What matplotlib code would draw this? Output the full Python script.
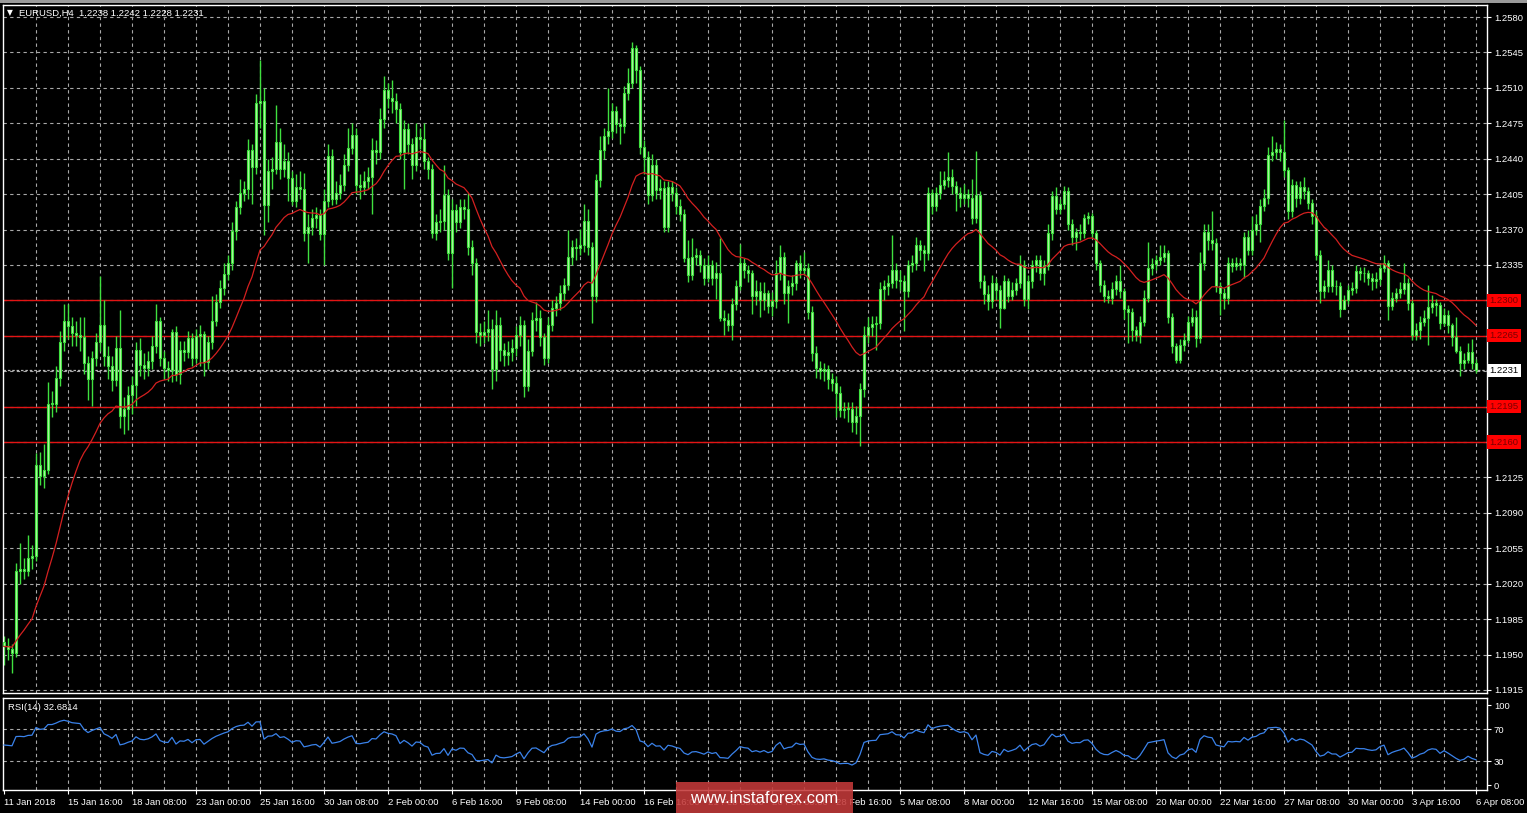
import numpy as np
import pandas as pd
import matplotlib
matplotlib.use("Agg")
import matplotlib.pyplot as plt
import matplotlib.transforms as mtransforms
from matplotlib.patches import Rectangle

# ---------------- data (EURUSD H4, 11 Jan 2018 00:00 -> 6 Apr 2018 08:00) ----------------
first_open = 1.1962
close = [
    1.1958, 1.1955, 1.1952, 1.2033, 1.2035, 1.2033, 1.2045, 1.2047, 1.2137, 1.2126,
    1.2132, 1.2198, 1.2198, 1.2223, 1.2259, 1.2280, 1.2275, 1.2268, 1.2266, 1.2264,
    1.2238, 1.2222, 1.2243, 1.2259, 1.2276, 1.2245, 1.2235, 1.2221, 1.2253, 1.2186,
    1.2193, 1.2206, 1.2216, 1.2251, 1.2236, 1.2233, 1.2240, 1.2255, 1.2280, 1.2243,
    1.2233, 1.2231, 1.2269, 1.2227, 1.2251, 1.2249, 1.2263, 1.2243, 1.2265, 1.2267,
    1.2239, 1.2259, 1.2280, 1.2298, 1.2312, 1.2326, 1.2337, 1.2369, 1.2392, 1.2406,
    1.2410, 1.2449, 1.2432, 1.2495, 1.2497, 1.2394, 1.2428, 1.2430, 1.2457, 1.2430,
    1.2438, 1.2421, 1.2398, 1.2412, 1.2410, 1.2367, 1.2373, 1.2381, 1.2384, 1.2366,
    1.2398, 1.2443, 1.2400, 1.2406, 1.2414, 1.2434, 1.2451, 1.2463, 1.2414, 1.2412,
    1.2418, 1.2422, 1.2449, 1.2447, 1.2479, 1.2508, 1.2500, 1.2497, 1.2489, 1.2447,
    1.2469, 1.2455, 1.2434, 1.2461, 1.2459, 1.2438, 1.2430, 1.2367, 1.2377, 1.2378,
    1.2404, 1.2347, 1.2389, 1.2377, 1.2392, 1.2390, 1.2353, 1.2337, 1.2269, 1.2266,
    1.2269, 1.2272, 1.2232, 1.2276, 1.2251, 1.2246, 1.2249, 1.2253, 1.2266, 1.2276,
    1.2215, 1.2250, 1.2281, 1.2283, 1.2264, 1.2243, 1.2276, 1.2292, 1.2297, 1.2307,
    1.2315, 1.2343, 1.2353, 1.2352, 1.2355, 1.2378, 1.2353, 1.2304, 1.2419, 1.2449,
    1.2462, 1.2467, 1.2487, 1.2474, 1.2472, 1.2505, 1.2515, 1.2549, 1.2528, 1.2452,
    1.2442, 1.2404, 1.2434, 1.2409, 1.2411, 1.2373, 1.2412, 1.2406, 1.2393, 1.2385,
    1.2342, 1.2325, 1.2343, 1.2345, 1.2335, 1.2322, 1.2335, 1.2322, 1.2327, 1.2283,
    1.2281, 1.2276, 1.2296, 1.2314, 1.2337, 1.2330, 1.2327, 1.2304, 1.2309, 1.2300,
    1.2307, 1.2294, 1.2299, 1.2327, 1.2343, 1.2307, 1.2314, 1.2317, 1.2337, 1.2330,
    1.2332, 1.2289, 1.2248, 1.2233, 1.2230, 1.2232, 1.2222, 1.2218, 1.2208, 1.2192,
    1.2193, 1.2193, 1.2180, 1.2186, 1.2212, 1.2266, 1.2274, 1.2277, 1.2278, 1.2311,
    1.2314, 1.2317, 1.2330, 1.2320, 1.2319, 1.2309, 1.2335, 1.2337, 1.2355, 1.2350,
    1.2347, 1.2406, 1.2393, 1.2406, 1.2414, 1.2419, 1.2422, 1.2413, 1.2406, 1.2401,
    1.2405, 1.2401, 1.2381, 1.2404, 1.2319, 1.2306, 1.2299, 1.2317, 1.2310, 1.2292,
    1.2319, 1.2304, 1.2310, 1.2317, 1.2335, 1.2301, 1.2319, 1.2335, 1.2340, 1.2327,
    1.2334, 1.2367, 1.2403, 1.2390, 1.2395, 1.2408, 1.2375, 1.2363, 1.2368, 1.2367,
    1.2381, 1.2383, 1.2367, 1.2337, 1.2315, 1.2304, 1.2302, 1.2311, 1.2319, 1.2309,
    1.2291, 1.2289, 1.2271, 1.2266, 1.2279, 1.2302, 1.2332, 1.2336, 1.2340, 1.2343,
    1.2347, 1.2284, 1.2255, 1.2241, 1.2256, 1.2261, 1.2279, 1.2284, 1.2263, 1.2337,
    1.2368, 1.2360, 1.2357, 1.2314, 1.2307, 1.2302, 1.2337, 1.2334, 1.2337, 1.2335,
    1.2363, 1.2350, 1.2370, 1.2375, 1.2393, 1.2401, 1.2444, 1.2447, 1.2450, 1.2447,
    1.2429, 1.2388, 1.2414, 1.2401, 1.2412, 1.2408, 1.2396, 1.2383, 1.2345, 1.2309,
    1.2314, 1.2330, 1.2314, 1.2314, 1.2291, 1.2300, 1.2310, 1.2312, 1.2329, 1.2327,
    1.2327, 1.2322, 1.2319, 1.2321, 1.2332, 1.2337, 1.2294, 1.2302, 1.2307, 1.2311,
    1.2317, 1.2297, 1.2266, 1.2271, 1.2279, 1.2283, 1.2293, 1.2297, 1.2295, 1.2278,
    1.2286, 1.2276, 1.2264, 1.2250, 1.2238, 1.2241, 1.2249, 1.2238, 1.2231,
]
high = [
    1.1968, 1.1966, 1.1960, 1.2040, 1.2060, 1.2045, 1.2068, 1.2058, 1.2149, 1.2150,
    1.2158, 1.2219, 1.2210, 1.2235, 1.2270, 1.2296, 1.2296, 1.2284, 1.2280, 1.2284,
    1.2284, 1.2245, 1.2250, 1.2268, 1.2324, 1.2300, 1.2255, 1.2245, 1.2265, 1.2290,
    1.2205, 1.2215, 1.2225, 1.2259, 1.2263, 1.2248, 1.2250, 1.2265, 1.2296, 1.2284,
    1.2250, 1.2240, 1.2272, 1.2275, 1.2260, 1.2260, 1.2270, 1.2268, 1.2272, 1.2276,
    1.2270, 1.2265, 1.2304, 1.2306, 1.2320, 1.2337, 1.2345, 1.2377, 1.2398, 1.2420,
    1.2418, 1.2459, 1.2455, 1.2504, 1.2538, 1.2510, 1.2440, 1.2442, 1.2493, 1.2470,
    1.2455, 1.2447, 1.2428, 1.2425, 1.2428, 1.2426, 1.2385, 1.2390, 1.2392, 1.2390,
    1.2410, 1.2455, 1.2450, 1.2418, 1.2425, 1.2445, 1.2470, 1.2475, 1.2470, 1.2425,
    1.2428, 1.2432, 1.2460, 1.2458, 1.2490, 1.2522, 1.2515, 1.2518, 1.2505, 1.2495,
    1.2478, 1.2475, 1.2460, 1.2475, 1.2470, 1.2475, 1.2442, 1.2435, 1.2385, 1.2390,
    1.2434, 1.2410, 1.2400, 1.2395, 1.2400, 1.2400, 1.2406, 1.2360, 1.2342, 1.2278,
    1.2280, 1.2290, 1.2282, 1.2290, 1.2284, 1.2258, 1.2260, 1.2262, 1.2275, 1.2285,
    1.2281, 1.2262, 1.2289, 1.2298, 1.2290, 1.2268, 1.2284, 1.2300, 1.2304, 1.2315,
    1.2322, 1.2370, 1.2360, 1.2362, 1.2371, 1.2395, 1.2390, 1.2358, 1.2425, 1.2462,
    1.2470, 1.2510, 1.2495, 1.2492, 1.2480, 1.2512, 1.2530, 1.2555, 1.2552, 1.2532,
    1.2458, 1.2448, 1.2445, 1.2440, 1.2420, 1.2418, 1.2418, 1.2418, 1.2412, 1.2400,
    1.2390, 1.2360, 1.2362, 1.2352, 1.2350, 1.2342, 1.2345, 1.2340, 1.2338, 1.2362,
    1.2290, 1.2288, 1.2302, 1.2320, 1.2356, 1.2342, 1.2335, 1.2330, 1.2320, 1.2318,
    1.2318, 1.2310, 1.2308, 1.2340, 1.2355, 1.2348, 1.2320, 1.2325, 1.2340, 1.2345,
    1.2348, 1.2337, 1.2294, 1.2255, 1.2240, 1.2238, 1.2236, 1.2228, 1.2225, 1.2215,
    1.2200, 1.2200, 1.2200, 1.2196, 1.2218, 1.2275, 1.2284, 1.2285, 1.2285, 1.2318,
    1.2320, 1.2325, 1.2365, 1.2337, 1.2330, 1.2325, 1.2340, 1.2345, 1.2363, 1.2360,
    1.2355, 1.2412, 1.2410, 1.2412, 1.2428, 1.2428, 1.2447, 1.2430, 1.2418, 1.2412,
    1.2415, 1.2410, 1.2420, 1.2448, 1.2408, 1.2325, 1.2315, 1.2325, 1.2322, 1.2315,
    1.2325, 1.2322, 1.2318, 1.2322, 1.2345, 1.2340, 1.2325, 1.2340, 1.2345, 1.2345,
    1.2340, 1.2375, 1.2408, 1.2412, 1.2400, 1.2413, 1.2412, 1.2380, 1.2372, 1.2375,
    1.2385, 1.2387, 1.2386, 1.2370, 1.2340, 1.2320, 1.2310, 1.2318, 1.2325, 1.2335,
    1.2312, 1.2295, 1.2292, 1.2275, 1.2285, 1.2310, 1.2358, 1.2342, 1.2345, 1.2355,
    1.2355, 1.2350, 1.2288, 1.2258, 1.2262, 1.2268, 1.2285, 1.2292, 1.2290, 1.2348,
    1.2375, 1.2375, 1.2388, 1.2362, 1.2318, 1.2312, 1.2343, 1.2342, 1.2343, 1.2342,
    1.2368, 1.2370, 1.2383, 1.2385, 1.2400, 1.2410, 1.2452, 1.2462, 1.2457, 1.2455,
    1.2478, 1.2432, 1.2420, 1.2418, 1.2418, 1.2422, 1.2412, 1.2400, 1.2388, 1.2350,
    1.2320, 1.2340, 1.2335, 1.2320, 1.2318, 1.2305, 1.2315, 1.2318, 1.2335, 1.2333,
    1.2333, 1.2330, 1.2327, 1.2328, 1.2337, 1.2345, 1.2340, 1.2308, 1.2312, 1.2318,
    1.2337, 1.2322, 1.2300, 1.2278, 1.2285, 1.2290, 1.2315, 1.2305, 1.2301, 1.2298,
    1.2292, 1.2290, 1.2278, 1.2284, 1.2255, 1.2248, 1.2258, 1.2262, 1.2242,
]
low = [
    1.1940, 1.1945, 1.1932, 1.1948, 1.2020, 1.2025, 1.2028, 1.2035, 1.2042, 1.2118,
    1.2115, 1.2128, 1.2185, 1.2190, 1.2215, 1.2250, 1.2262, 1.2255, 1.2255, 1.2250,
    1.2227, 1.2202, 1.2196, 1.2235, 1.2250, 1.2235, 1.2222, 1.2210, 1.2215, 1.2174,
    1.2168, 1.2172, 1.2188, 1.2196, 1.2225, 1.2222, 1.2225, 1.2232, 1.2248, 1.2235,
    1.2222, 1.2220, 1.2219, 1.2220, 1.2217, 1.2240, 1.2243, 1.2235, 1.2238, 1.2235,
    1.2225, 1.2232, 1.2252, 1.2275, 1.2292, 1.2305, 1.2320, 1.2330, 1.2360, 1.2385,
    1.2398, 1.2400, 1.2395, 1.2425, 1.2470, 1.2365, 1.2377, 1.2410, 1.2425, 1.2420,
    1.2422, 1.2398, 1.2394, 1.2392, 1.2400, 1.2359, 1.2337, 1.2365, 1.2372, 1.2360,
    1.2335, 1.2392, 1.2394, 1.2395, 1.2400, 1.2408, 1.2428, 1.2445, 1.2405, 1.2400,
    1.2405, 1.2410, 1.2385, 1.2435, 1.2440, 1.2470, 1.2490, 1.2485, 1.2475, 1.2440,
    1.2410, 1.2445, 1.2420, 1.2428, 1.2450, 1.2430, 1.2420, 1.2362, 1.2360, 1.2368,
    1.2370, 1.2340, 1.2312, 1.2368, 1.2372, 1.2380, 1.2345, 1.2325, 1.2258, 1.2255,
    1.2258, 1.2260, 1.2212, 1.2220, 1.2240, 1.2235, 1.2236, 1.2240, 1.2245, 1.2255,
    1.2205, 1.2210, 1.2245, 1.2270, 1.2255, 1.2236, 1.2238, 1.2270, 1.2285, 1.2290,
    1.2300, 1.2310, 1.2335, 1.2340, 1.2345, 1.2348, 1.2345, 1.2278, 1.2298, 1.2412,
    1.2440, 1.2455, 1.2460, 1.2465, 1.2455, 1.2465, 1.2498, 1.2510, 1.2515, 1.2445,
    1.2425, 1.2395, 1.2398, 1.2400, 1.2400, 1.2368, 1.2368, 1.2398, 1.2385, 1.2378,
    1.2338, 1.2318, 1.2320, 1.2335, 1.2328, 1.2315, 1.2318, 1.2315, 1.2301, 1.2280,
    1.2266, 1.2270, 1.2261, 1.2290, 1.2310, 1.2322, 1.2318, 1.2287, 1.2295, 1.2284,
    1.2290, 1.2288, 1.2285, 1.2292, 1.2320, 1.2296, 1.2278, 1.2305, 1.2310, 1.2322,
    1.2325, 1.2282, 1.2240, 1.2223, 1.2222, 1.2220, 1.2212, 1.2210, 1.2185, 1.2185,
    1.2184, 1.2180, 1.2170, 1.2168, 1.2156, 1.2205, 1.2258, 1.2265, 1.2251, 1.2272,
    1.2300, 1.2305, 1.2312, 1.2312, 1.2310, 1.2270, 1.2303, 1.2328, 1.2330, 1.2340,
    1.2329, 1.2340, 1.2385, 1.2388, 1.2400, 1.2410, 1.2412, 1.2405, 1.2388, 1.2392,
    1.2395, 1.2392, 1.2375, 1.2376, 1.2312, 1.2296, 1.2290, 1.2292, 1.2300, 1.2273,
    1.2291, 1.2298, 1.2300, 1.2305, 1.2312, 1.2294, 1.2291, 1.2312, 1.2328, 1.2320,
    1.2315, 1.2330, 1.2360, 1.2385, 1.2385, 1.2390, 1.2370, 1.2355, 1.2350, 1.2360,
    1.2362, 1.2375, 1.2362, 1.2330, 1.2308, 1.2298, 1.2297, 1.2296, 1.2305, 1.2302,
    1.2282, 1.2258, 1.2260, 1.2260, 1.2258, 1.2275, 1.2298, 1.2325, 1.2330, 1.2335,
    1.2338, 1.2278, 1.2248, 1.2238, 1.2238, 1.2250, 1.2258, 1.2275, 1.2254, 1.2258,
    1.2330, 1.2350, 1.2350, 1.2308, 1.2286, 1.2291, 1.2296, 1.2328, 1.2330, 1.2330,
    1.2322, 1.2345, 1.2345, 1.2365, 1.2358, 1.2388, 1.2395, 1.2438, 1.2440, 1.2438,
    1.2422, 1.2380, 1.2382, 1.2392, 1.2395, 1.2400, 1.2390, 1.2375, 1.2340, 1.2297,
    1.2302, 1.2308, 1.2308, 1.2305, 1.2284, 1.2291, 1.2296, 1.2305, 1.2307, 1.2320,
    1.2318, 1.2315, 1.2310, 1.2312, 1.2315, 1.2328, 1.2281, 1.2290, 1.2298, 1.2302,
    1.2306, 1.2290, 1.2261, 1.2261, 1.2262, 1.2275, 1.2256, 1.2288, 1.2285, 1.2272,
    1.2275, 1.2268, 1.2255, 1.2248, 1.2225, 1.2232, 1.2238, 1.2232, 1.2228,
]
x_labels = [
    "11 Jan 2018", "15 Jan 16:00", "18 Jan 08:00", "23 Jan 00:00", "25 Jan 16:00",
    "30 Jan 08:00", "2 Feb 00:00", "6 Feb 16:00", "9 Feb 08:00", "14 Feb 00:00",
    "16 Feb 16:00", "21 Feb 08:00", "26 Feb 00:00", "28 Feb 16:00", "5 Mar 08:00",
    "8 Mar 00:00", "12 Mar 16:00", "15 Mar 08:00", "20 Mar 00:00", "22 Mar 16:00",
    "27 Mar 08:00", "30 Mar 00:00", "3 Apr 16:00", "6 Apr 08:00",
]
price_ticks = [1.1915, 1.1950, 1.1985, 1.2020, 1.2055, 1.2090, 1.2125, 1.2160, 1.2195,
               1.2230, 1.2265, 1.2300, 1.2335, 1.2370, 1.2405, 1.2440, 1.2475, 1.2510,
               1.2545, 1.2580]
levels = [1.2300, 1.2265, 1.2195, 1.2160]
bid = 1.2231
rsi_ticks = [0, 30, 70, 100]
header = "EURUSD,H4  1.2238 1.2242 1.2228 1.2231"
rsi_title = "RSI(14) 32.6814"
ma_period = 24
rsi_period = 14

assert len(close) == len(high) == len(low) == 369

# ---------------- derived ----------------
c = np.array(close)
h = np.array(high)
l = np.array(low)
o = np.r_[first_open, c[:-1]]
n = len(c)
idx = np.arange(n)

ma = pd.Series(c).ewm(span=ma_period, adjust=False).mean().values

d = np.diff(c)
gain = np.clip(d, 0, None)
loss = np.clip(-d, 0, None)
seed = np.mean(np.abs(d[:rsi_period])) / 2
ag, al = seed, seed
rsi = [100 - 100 / (1 + ag / al)]
for g, ls in zip(gain, loss):
    ag = (ag * (rsi_period - 1) + g) / rsi_period
    al = (al * (rsi_period - 1) + ls) / rsi_period
    rsi.append(100 - 100 / (1 + ag / al))
rsi = np.array(rsi)

# ---------------- figure ----------------
W, H = 1527, 813
fig = plt.figure(figsize=(W / 100, H / 100), dpi=100, facecolor="black")
FONT = "Liberation Sans"
GRID = "#a8a8a8"
WHITE = "#ffffff"
GREEN = "#3fe03f"
BODY = "#b8f7a8"
RED = "#e31414"


def fx(px):
    return px / W


def fy(py):
    return 1 - py / H


ax = fig.add_axes([fx(3), fy(693), fx(1484), (693 - 5) / H], facecolor="black")
ax2 = fig.add_axes([fx(3), fy(790), fx(1484), (790 - 698) / H], facecolor="black")

xl = (-0.25, 370.75)
for a in (ax, ax2):
    a.set_xlim(*xl)
    for s in a.spines.values():
        s.set_color(WHITE)
        s.set_linewidth(1.0)
    for xv in np.arange(8, n + 2, 8):
        a.axvline(xv, color=GRID, lw=0.8, ls=(0, (3, 3)), zorder=0)

# main price panel
ax.set_ylim(1.19120, 1.25919)
for yv in price_ticks:
    ax.axhline(yv, color=GRID, lw=0.8, ls=(0, (3, 3)), zorder=0)

for lv in levels:
    ax.axhline(lv, color=RED, lw=1.0, zorder=1)
ax.axhline(bid, color="#b8b8b8", lw=0.9, ls=(0, (2, 1.5)), zorder=1)

ax.vlines(idx, l, h, color=GREEN, lw=1.0, zorder=2)
body_bottom = np.minimum(o, c)
body_h = np.maximum(np.abs(c - o), 0.00005)
ax.bar(idx, body_h, bottom=body_bottom, width=0.62, color=BODY,
       edgecolor=GREEN, linewidth=0.8, zorder=3)
ax.plot(idx, ma, color="#d42020", lw=0.9, zorder=4)

# tick labels hidden where a level/bid box sits on top of them
marked = levels + [bid]
tick_text = ["" if min(abs(v - m) for m in marked) < 0.0006 else f"{v:.4f}"
             for v in price_ticks]
ax.yaxis.tick_right()
ax.set_yticks(price_ticks)
ax.set_yticklabels(tick_text, fontfamily=FONT)
ax.tick_params(axis="y", colors=WHITE, labelcolor=WHITE, labelsize=6.8,
               length=3, width=0.8, pad=2)
ax.set_xticks([])

trans = mtransforms.blended_transform_factory(ax.transAxes, ax.transData)
for lv in levels:
    ax.text(1.0 + 2.5 / 1484, lv, f"{lv:.4f}", transform=trans, ha="left",
            va="center", fontsize=6.8, fontfamily=FONT, color="#7a0000",
            bbox=dict(boxstyle="square,pad=0.22", fc="#ff0000", ec="none"),
            clip_on=False, zorder=10)
ax.text(1.0 + 2.5 / 1484, bid, f"{bid:.4f}", transform=trans, ha="left",
        va="center", fontsize=6.8, fontfamily=FONT, color="black",
        bbox=dict(boxstyle="square,pad=0.22", fc="white", ec="none"),
        clip_on=False, zorder=10)

fig.text(fx(7), fy(13), "\u25bc", fontsize=5.5, color=WHITE, va="center", ha="left",
         fontfamily="DejaVu Sans")
fig.text(fx(19), fy(13), header, fontsize=6.8, color=WHITE, va="center", ha="left",
         fontfamily=FONT)

# RSI panel
ax2.set_ylim(-6.25, 108.75)
for yv in (30, 70):
    ax2.axhline(yv, color=GRID, lw=0.8, ls=(0, (3, 3)), zorder=0)
ax2.plot(idx, rsi, color="#3a82ea", lw=0.9, zorder=3)
ax2.yaxis.tick_right()
ax2.set_yticks(rsi_ticks)
ax2.set_yticklabels([str(v) for v in rsi_ticks], fontfamily=FONT)
ax2.tick_params(axis="y", colors=WHITE, labelcolor=WHITE, labelsize=6.8,
                length=3, width=0.8, pad=2)
ax2.set_xticks(np.arange(0, n, 16))
ax2.set_xticklabels(x_labels, ha="left", fontfamily=FONT)
ax2.tick_params(axis="x", colors=WHITE, labelcolor=WHITE, labelsize=6.8,
                length=3, width=0.8, pad=3)
fig.text(fx(8), fy(707), rsi_title, fontsize=6.8, color=WHITE, va="center",
         ha="left", fontfamily=FONT)

# frame strip
fig.patches.append(Rectangle((0, fy(3)), 1, 3 / H, transform=fig.transFigure,
                             fc="#9a9a9a", ec="none", zorder=0))

# watermark
fig.patches.append(Rectangle((fx(676), fy(813)), fx(177), 31 / H,
                             transform=fig.transFigure, fc="#c43a3a",
                             ec="none", alpha=0.88, zorder=20))
fig.text(fx(764.5), fy(798), "www.instaforex.com", fontsize=12, color="white",
         ha="center", va="center", fontfamily=FONT, zorder=21)

fig.savefig("out.png", dpi=100, facecolor="black")
